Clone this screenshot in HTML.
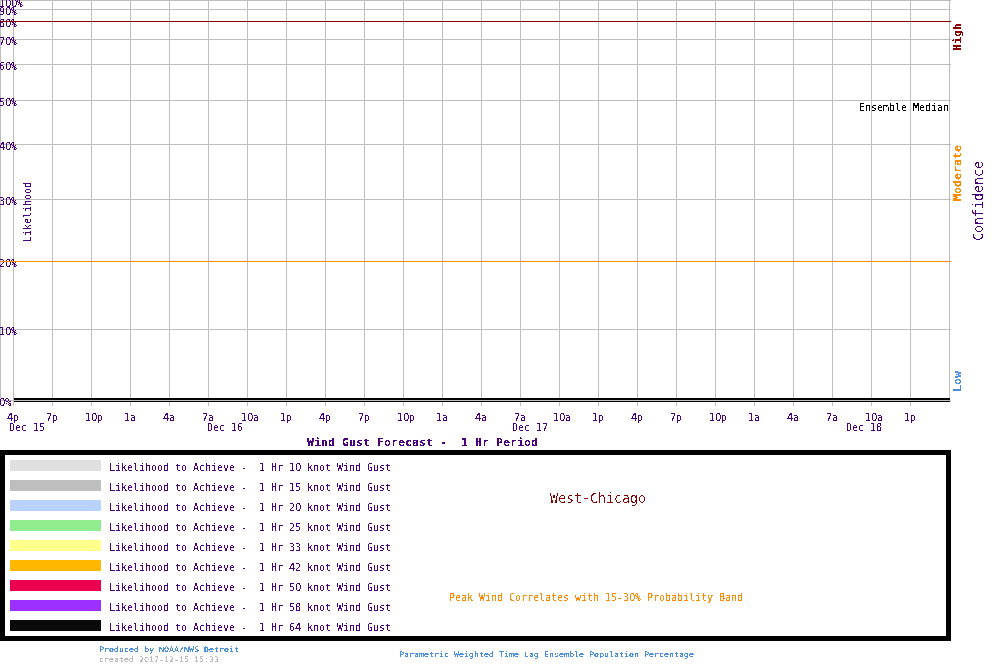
<!DOCTYPE html>
<html lang="en">
<head>
<meta charset="utf-8">
<title>Wind Gust Forecast - 1 Hr Period - West-Chicago</title>
<style>
html,body{margin:0;padding:0;background:#fff;}
body{width:1000px;height:670px;overflow:hidden;}
svg{display:block;}
svg rect{shape-rendering:crispEdges;}
svg text{font-family:"DejaVu Sans Mono", "Liberation Mono", monospace;white-space:pre;}
svg text.s{font-size:11px;}
svg text.m{font-size:11px;font-weight:bold;}
svg text.l{font-size:13.5px;}
svg text.t{font-size:7.5px;}
svg tspan.z{font-family:"Liberation Sans", "DejaVu Sans", sans-serif;}
svg tspan.h{font-family:"Liberation Mono",monospace;font-weight:bold;}
</style>
</head>
<body>
<svg width="1000" height="670" viewBox="0 0 1000 670">
<defs>
<filter id="crispA" x="0" y="0" width="1000" height="670" filterUnits="userSpaceOnUse" color-interpolation-filters="sRGB"><feComponentTransfer><feFuncA type="discrete" tableValues="0 0 0 0 0 0 0 0 0 1 1 1 1 1 1 1 1 1 1 1"/></feComponentTransfer></filter>
<filter id="crispB" x="0" y="0" width="1000" height="670" filterUnits="userSpaceOnUse" color-interpolation-filters="sRGB"><feComponentTransfer><feFuncA type="discrete" tableValues="0 0 0 1 1"/></feComponentTransfer></filter>
<filter id="crispC" x="0" y="0" width="1000" height="670" filterUnits="userSpaceOnUse" color-interpolation-filters="sRGB"><feComponentTransfer><feFuncA type="discrete" tableValues="0 0 1 1 1"/></feComponentTransfer></filter>
</defs>
<rect x="0" y="0" width="1000" height="670" fill="#ffffff"/>
<g id="shapes">
<rect x="0" y="0" width="1" height="401" fill="#bebebe"/>
<rect x="13" y="0" width="1" height="406" fill="#bebebe"/>
<rect x="52" y="0" width="1" height="406" fill="#bebebe"/>
<rect x="91" y="0" width="1" height="406" fill="#bebebe"/>
<rect x="130" y="0" width="1" height="406" fill="#bebebe"/>
<rect x="169" y="0" width="1" height="406" fill="#bebebe"/>
<rect x="208" y="0" width="1" height="406" fill="#bebebe"/>
<rect x="247" y="0" width="1" height="406" fill="#bebebe"/>
<rect x="286" y="0" width="1" height="406" fill="#bebebe"/>
<rect x="325" y="0" width="1" height="406" fill="#bebebe"/>
<rect x="364" y="0" width="1" height="406" fill="#bebebe"/>
<rect x="403" y="0" width="1" height="406" fill="#bebebe"/>
<rect x="442" y="0" width="1" height="406" fill="#bebebe"/>
<rect x="481" y="0" width="1" height="406" fill="#bebebe"/>
<rect x="520" y="0" width="1" height="406" fill="#bebebe"/>
<rect x="559" y="0" width="1" height="406" fill="#bebebe"/>
<rect x="598" y="0" width="1" height="406" fill="#bebebe"/>
<rect x="637" y="0" width="1" height="406" fill="#bebebe"/>
<rect x="676" y="0" width="1" height="406" fill="#bebebe"/>
<rect x="715" y="0" width="1" height="406" fill="#bebebe"/>
<rect x="754" y="0" width="1" height="406" fill="#bebebe"/>
<rect x="793" y="0" width="1" height="406" fill="#bebebe"/>
<rect x="832" y="0" width="1" height="406" fill="#bebebe"/>
<rect x="871" y="0" width="1" height="406" fill="#bebebe"/>
<rect x="910" y="0" width="1" height="406" fill="#bebebe"/>
<rect x="949" y="0" width="1" height="401" fill="#bebebe"/>
<rect x="0" y="0" width="951" height="1" fill="#bebebe"/>
<rect x="0" y="9" width="951" height="1" fill="#bebebe"/>
<rect x="0" y="21" width="951" height="1" fill="#bebebe"/>
<rect x="0" y="39" width="951" height="1" fill="#bebebe"/>
<rect x="0" y="64" width="951" height="1" fill="#bebebe"/>
<rect x="0" y="100" width="951" height="1" fill="#bebebe"/>
<rect x="0" y="144" width="951" height="1" fill="#bebebe"/>
<rect x="0" y="199" width="951" height="1" fill="#bebebe"/>
<rect x="0" y="261" width="951" height="1" fill="#bebebe"/>
<rect x="0" y="329" width="951" height="1" fill="#bebebe"/>
<rect x="0" y="400" width="951" height="1" fill="#bebebe"/>
<rect x="14" y="398" width="936" height="2" fill="#000"/>
<rect x="14" y="401" width="936" height="1" fill="#000"/>
<rect x="0" y="450" width="951" height="5" fill="#000"/>
<rect x="0" y="636" width="951" height="5" fill="#000"/>
<rect x="0" y="450" width="5" height="191" fill="#000"/>
<rect x="946" y="450" width="5" height="191" fill="#000"/>
<rect x="10" y="460" width="91" height="11" fill="#e0e0e0"/>
<rect x="10" y="480" width="91" height="11" fill="#bebebe"/>
<rect x="10" y="500" width="91" height="11" fill="#b9d3fc"/>
<rect x="10" y="520" width="91" height="11" fill="#90ee90"/>
<rect x="10" y="540" width="91" height="11" fill="#ffff8c"/>
<rect x="10" y="560" width="91" height="11" fill="#ffb700"/>
<rect x="10" y="580" width="91" height="11" fill="#ee0050"/>
<rect x="10" y="600" width="91" height="11" fill="#9b30ff"/>
<rect x="10" y="620" width="91" height="11" fill="#0a0a0a"/>
</g>
<g id="labels" filter="url(#crispA)">
<text class="s" x="-1" y="7" fill="#4b0082" textLength="24" lengthAdjust="spacingAndGlyphs" xml:space="preserve">1<tspan class="z" dx="0.51">0</tspan><tspan class="z" dx="0.51">0</tspan>%</text>
<text class="s" x="-1" y="15" fill="#4b0082" textLength="18" lengthAdjust="spacingAndGlyphs" xml:space="preserve">9<tspan class="z" dx="0.51">0</tspan>%</text>
<text class="s" x="-1" y="27" fill="#4b0082" textLength="18" lengthAdjust="spacingAndGlyphs" xml:space="preserve">8<tspan class="z" dx="0.51">0</tspan>%</text>
<text class="s" x="-1" y="45" fill="#4b0082" textLength="18" lengthAdjust="spacingAndGlyphs" xml:space="preserve">7<tspan class="z" dx="0.51">0</tspan>%</text>
<text class="s" x="-1" y="70" fill="#4b0082" textLength="18" lengthAdjust="spacingAndGlyphs" xml:space="preserve">6<tspan class="z" dx="0.51">0</tspan>%</text>
<text class="s" x="-1" y="106" fill="#4b0082" textLength="18" lengthAdjust="spacingAndGlyphs" xml:space="preserve">5<tspan class="z" dx="0.51">0</tspan>%</text>
<text class="s" x="-1" y="150" fill="#4b0082" textLength="18" lengthAdjust="spacingAndGlyphs" xml:space="preserve">4<tspan class="z" dx="0.51">0</tspan>%</text>
<text class="s" x="-1" y="205" fill="#4b0082" textLength="18" lengthAdjust="spacingAndGlyphs" xml:space="preserve">3<tspan class="z" dx="0.51">0</tspan>%</text>
<text class="s" x="-1" y="267" fill="#4b0082" textLength="18" lengthAdjust="spacingAndGlyphs" xml:space="preserve">2<tspan class="z" dx="0.51">0</tspan>%</text>
<text class="s" x="-1" y="335" fill="#4b0082" textLength="18" lengthAdjust="spacingAndGlyphs" xml:space="preserve">1<tspan class="z" dx="0.51">0</tspan>%</text>
<text class="s" x="-1" y="406" fill="#4b0082" textLength="12" lengthAdjust="spacingAndGlyphs" xml:space="preserve"><tspan class="z" dx="0.51">0</tspan>%</text>
<text class="s" x="7" y="421" fill="#4b0082" textLength="12" lengthAdjust="spacingAndGlyphs" xml:space="preserve">4p</text>
<text class="s" x="46" y="421" fill="#4b0082" textLength="12" lengthAdjust="spacingAndGlyphs" xml:space="preserve">7p</text>
<text class="s" x="85" y="421" fill="#4b0082" textLength="18" lengthAdjust="spacingAndGlyphs" xml:space="preserve">1<tspan class="z" dx="0.51">0</tspan>p</text>
<text class="s" x="124" y="421" fill="#4b0082" textLength="12" lengthAdjust="spacingAndGlyphs" xml:space="preserve">1a</text>
<text class="s" x="163" y="421" fill="#4b0082" textLength="12" lengthAdjust="spacingAndGlyphs" xml:space="preserve">4a</text>
<text class="s" x="202" y="421" fill="#4b0082" textLength="12" lengthAdjust="spacingAndGlyphs" xml:space="preserve">7a</text>
<text class="s" x="241" y="421" fill="#4b0082" textLength="18" lengthAdjust="spacingAndGlyphs" xml:space="preserve">1<tspan class="z" dx="0.51">0</tspan>a</text>
<text class="s" x="280" y="421" fill="#4b0082" textLength="12" lengthAdjust="spacingAndGlyphs" xml:space="preserve">1p</text>
<text class="s" x="319" y="421" fill="#4b0082" textLength="12" lengthAdjust="spacingAndGlyphs" xml:space="preserve">4p</text>
<text class="s" x="358" y="421" fill="#4b0082" textLength="12" lengthAdjust="spacingAndGlyphs" xml:space="preserve">7p</text>
<text class="s" x="397" y="421" fill="#4b0082" textLength="18" lengthAdjust="spacingAndGlyphs" xml:space="preserve">1<tspan class="z" dx="0.51">0</tspan>p</text>
<text class="s" x="436" y="421" fill="#4b0082" textLength="12" lengthAdjust="spacingAndGlyphs" xml:space="preserve">1a</text>
<text class="s" x="475" y="421" fill="#4b0082" textLength="12" lengthAdjust="spacingAndGlyphs" xml:space="preserve">4a</text>
<text class="s" x="514" y="421" fill="#4b0082" textLength="12" lengthAdjust="spacingAndGlyphs" xml:space="preserve">7a</text>
<text class="s" x="553" y="421" fill="#4b0082" textLength="18" lengthAdjust="spacingAndGlyphs" xml:space="preserve">1<tspan class="z" dx="0.51">0</tspan>a</text>
<text class="s" x="592" y="421" fill="#4b0082" textLength="12" lengthAdjust="spacingAndGlyphs" xml:space="preserve">1p</text>
<text class="s" x="631" y="421" fill="#4b0082" textLength="12" lengthAdjust="spacingAndGlyphs" xml:space="preserve">4p</text>
<text class="s" x="670" y="421" fill="#4b0082" textLength="12" lengthAdjust="spacingAndGlyphs" xml:space="preserve">7p</text>
<text class="s" x="709" y="421" fill="#4b0082" textLength="18" lengthAdjust="spacingAndGlyphs" xml:space="preserve">1<tspan class="z" dx="0.51">0</tspan>p</text>
<text class="s" x="748" y="421" fill="#4b0082" textLength="12" lengthAdjust="spacingAndGlyphs" xml:space="preserve">1a</text>
<text class="s" x="787" y="421" fill="#4b0082" textLength="12" lengthAdjust="spacingAndGlyphs" xml:space="preserve">4a</text>
<text class="s" x="826" y="421" fill="#4b0082" textLength="12" lengthAdjust="spacingAndGlyphs" xml:space="preserve">7a</text>
<text class="s" x="865" y="421" fill="#4b0082" textLength="18" lengthAdjust="spacingAndGlyphs" xml:space="preserve">1<tspan class="z" dx="0.51">0</tspan>a</text>
<text class="s" x="904" y="421" fill="#4b0082" textLength="12" lengthAdjust="spacingAndGlyphs" xml:space="preserve">1p</text>
<text class="s" x="9" y="431" fill="#4b0082" textLength="36" lengthAdjust="spacingAndGlyphs" xml:space="preserve">Dec 15</text>
<text class="s" x="207" y="431" fill="#4b0082" textLength="36" lengthAdjust="spacingAndGlyphs" xml:space="preserve">Dec 16</text>
<text class="s" x="512" y="431" fill="#4b0082" textLength="36" lengthAdjust="spacingAndGlyphs" xml:space="preserve">Dec 17</text>
<text class="s" x="846" y="431" fill="#4b0082" textLength="36" lengthAdjust="spacingAndGlyphs" xml:space="preserve">Dec 18</text>
<text class="s" x="31" y="242" fill="#4b0082" textLength="60" lengthAdjust="spacingAndGlyphs" transform="rotate(-90 31 242)" xml:space="preserve">Likelihood</text>
<text class="m" x="961" y="51" fill="#8b0000" textLength="28" lengthAdjust="spacingAndGlyphs" transform="rotate(-90 961 51)" xml:space="preserve">High</text>
<text class="m" x="961" y="201" fill="#ff8c00" textLength="56" lengthAdjust="spacingAndGlyphs" transform="rotate(-90 961 201)" xml:space="preserve">Moderate</text>
<text class="m" x="961" y="392" fill="#4a90e2" textLength="21" lengthAdjust="spacingAndGlyphs" transform="rotate(-90 961 392)" xml:space="preserve">Low</text>
<text class="s" x="859" y="111" fill="#000" textLength="90" lengthAdjust="spacingAndGlyphs" xml:space="preserve">Ensemble Median</text>
<text class="m" x="307" y="446" fill="#4b0082" textLength="231" lengthAdjust="spacingAndGlyphs" xml:space="preserve">Wind Gust Forecast -  1 Hr Period</text>
<text class="s" x="109" y="471" fill="#4b0082" textLength="282" lengthAdjust="spacingAndGlyphs" xml:space="preserve">Likelihood to Achieve <tspan class="h">-</tspan>  1 Hr 1<tspan class="z" dx="0.51">0</tspan> knot Wind Gust</text>
<text class="s" x="109" y="491" fill="#4b0082" textLength="282" lengthAdjust="spacingAndGlyphs" xml:space="preserve">Likelihood to Achieve <tspan class="h">-</tspan>  1 Hr 15 knot Wind Gust</text>
<text class="s" x="109" y="511" fill="#4b0082" textLength="282" lengthAdjust="spacingAndGlyphs" xml:space="preserve">Likelihood to Achieve <tspan class="h">-</tspan>  1 Hr 2<tspan class="z" dx="0.51">0</tspan> knot Wind Gust</text>
<text class="s" x="109" y="531" fill="#4b0082" textLength="282" lengthAdjust="spacingAndGlyphs" xml:space="preserve">Likelihood to Achieve <tspan class="h">-</tspan>  1 Hr 25 knot Wind Gust</text>
<text class="s" x="109" y="551" fill="#4b0082" textLength="282" lengthAdjust="spacingAndGlyphs" xml:space="preserve">Likelihood to Achieve <tspan class="h">-</tspan>  1 Hr 33 knot Wind Gust</text>
<text class="s" x="109" y="571" fill="#4b0082" textLength="282" lengthAdjust="spacingAndGlyphs" xml:space="preserve">Likelihood to Achieve <tspan class="h">-</tspan>  1 Hr 42 knot Wind Gust</text>
<text class="s" x="109" y="591" fill="#4b0082" textLength="282" lengthAdjust="spacingAndGlyphs" xml:space="preserve">Likelihood to Achieve <tspan class="h">-</tspan>  1 Hr 5<tspan class="z" dx="0.51">0</tspan> knot Wind Gust</text>
<text class="s" x="109" y="611" fill="#4b0082" textLength="282" lengthAdjust="spacingAndGlyphs" xml:space="preserve">Likelihood to Achieve <tspan class="h">-</tspan>  1 Hr 58 knot Wind Gust</text>
<text class="s" x="109" y="631" fill="#4b0082" textLength="282" lengthAdjust="spacingAndGlyphs" xml:space="preserve">Likelihood to Achieve <tspan class="h">-</tspan>  1 Hr 64 knot Wind Gust</text>
<text class="s" x="449" y="601" fill="#ff8c00" textLength="294" lengthAdjust="spacingAndGlyphs" xml:space="preserve">Peak Wind Correlates with 15<tspan class="h">-</tspan>3<tspan class="z" dx="0.51">0</tspan>% Probability Band</text>
</g>
<g id="labels-large" filter="url(#crispB)">
<text class="l" x="983" y="241" fill="#4b0082" textLength="80" lengthAdjust="spacingAndGlyphs" transform="rotate(-90 983 241)" xml:space="preserve">Confidence</text>
<text class="l" x="550" y="503" fill="#8b0000" textLength="96" lengthAdjust="spacingAndGlyphs" xml:space="preserve">West-Chicago</text>
</g>
<g id="labels-tiny" filter="url(#crispC)">
<text class="t" x="99" y="652" fill="#4a90e2" textLength="140" lengthAdjust="spacingAndGlyphs" xml:space="preserve">Produced by NOAA/NWS Detroit</text>
<text class="t" x="99" y="662" fill="#bebebe" textLength="120" lengthAdjust="spacingAndGlyphs" xml:space="preserve">created 2<tspan class="z" dx="0.34">0</tspan>17<tspan class="h">-</tspan>12<tspan class="h">-</tspan>15 15:33</text>
<text class="t" x="399" y="657" fill="#4a90e2" textLength="295" lengthAdjust="spacingAndGlyphs" xml:space="preserve">Parametric Weighted Time Lag Ensemble Population Percentage</text>
</g>
<g id="thresholds">
<rect x="0" y="21" width="951" height="1" fill="#8b0000"/>
<rect x="0" y="261" width="951" height="1" fill="#ff8c00"/>
</g>
</svg>
</body>
</html>
